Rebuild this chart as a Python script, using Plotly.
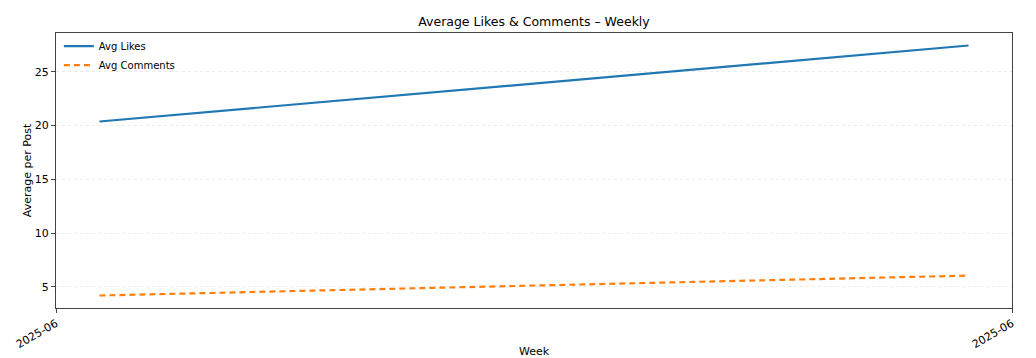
import plotly.graph_objects as go
import pandas as pd

weeks = ["2025-06-02", "2025-06-09"]
avg_likes = [20.38, 27.45]
avg_comments = [4.2, 6.05]
x_tick_labels = ["2025-06", "2025-06"]

dates = pd.to_datetime(weeks)
span = dates[1] - dates[0]
x0 = dates[0] - span * 0.05
x1 = dates[1] + span * 0.05

lo = min(avg_comments + avg_likes)
hi = max(avg_comments + avg_likes)
pad = (hi - lo) * 0.05

fig = go.Figure()
fig.add_trace(go.Scatter(x=dates, y=avg_likes, mode="lines", name="Avg Likes",
                         line=dict(color="#1f77b4", width=2.2)))
fig.add_trace(go.Scatter(x=dates, y=avg_comments, mode="lines", name="Avg Comments",
                         line=dict(color="#ff7f0e", width=2.2, dash="6px,4px")))

fig.update_layout(
    width=1036, height=358,
    paper_bgcolor="white", plot_bgcolor="white",
    margin=dict(l=56, r=24, t=33, b=50, autoexpand=False),
    font=dict(family="DejaVu Sans", size=11, color="black"),
    title=dict(text="Average Likes & Comments – Weekly", x=0.5, xanchor="center",
               xref="paper", y=1 - 22 / 358, yref="container", yanchor="middle",
               font=dict(size=12.5)),
    legend=dict(x=0.003, y=1.005, xanchor="left", yanchor="top",
                bgcolor="rgba(0,0,0,0)", font=dict(size=10), tracegroupgap=0),
    showlegend=True,
)
fig.update_xaxes(
    type="date", range=[x0, x1], automargin=False,
    tickvals=[x0, x1], ticktext=x_tick_labels, tickangle=-30,
    showline=True, linecolor="#444", linewidth=1.2, mirror=True,
    ticks="outside", ticklen=4, tickcolor="#444",
    showgrid=False, zeroline=False,
    title=dict(text="Week", standoff=11, font=dict(size=11)),
)
fig.update_yaxes(
    range=[lo - pad, hi + pad], automargin=False,
    tickvals=[5, 10, 15, 20, 25],
    showline=True, linecolor="#444", linewidth=1.2, mirror=True,
    ticks="outside", ticklen=4, tickcolor="#444",
    showgrid=True, gridcolor="#ebebeb", griddash="dot", gridwidth=1,
    zeroline=False,
    title=dict(text="Average per Post", standoff=0, font=dict(size=11)),
)

fig.write_html("out.html", config={"displayModeBar": False},
               post_script="document.body.style.margin='0';document.body.style.overflow='hidden';")
